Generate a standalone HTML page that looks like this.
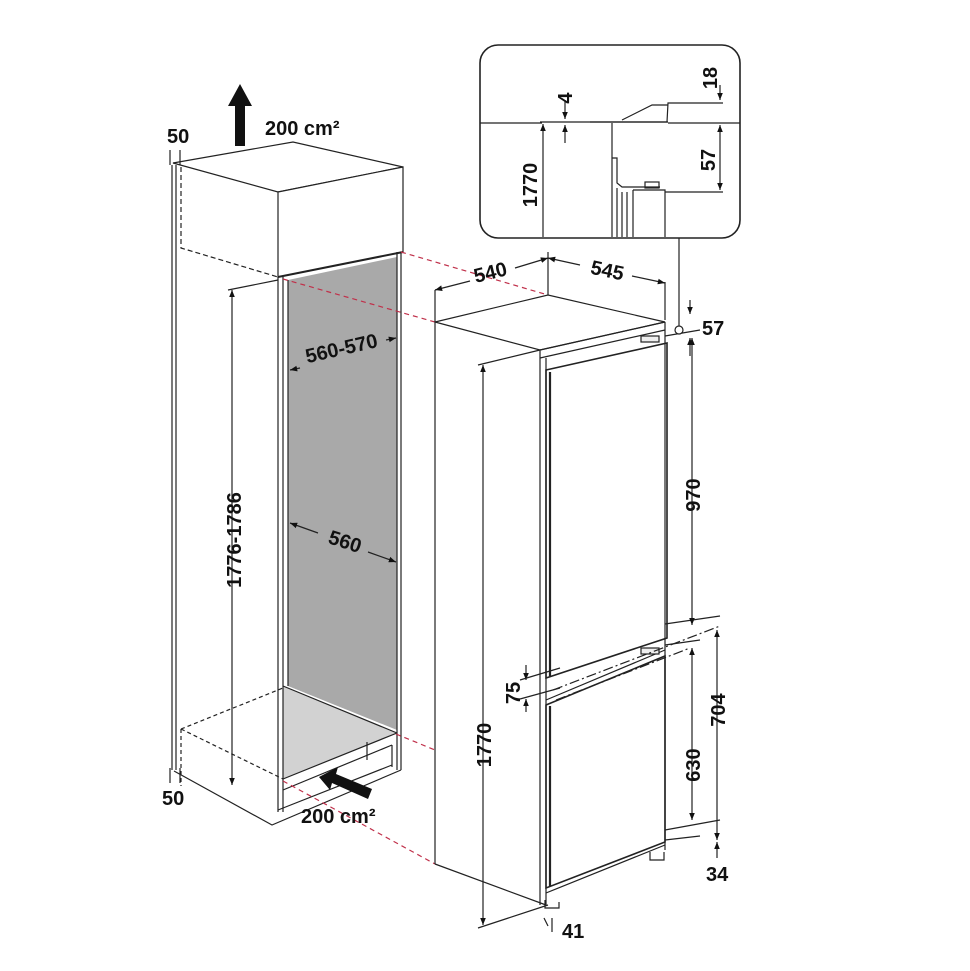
<!DOCTYPE html>
<html><head><meta charset="utf-8"><style>
html,body{margin:0;padding:0;background:#fff}
svg{display:block}
text{font-family:"Liberation Sans",sans-serif;font-weight:bold;font-size:20px;fill:#111}
</style></head><body>
<svg width="970" height="971" viewBox="0 0 970 971" xmlns="http://www.w3.org/2000/svg">
<defs>
<marker id="a" viewBox="0 0 10 10" refX="10" refY="5" markerWidth="6" markerHeight="6" orient="auto-start-reverse"><path d="M0,1 L10,5 L0,9z" fill="#111"/></marker>
</defs>
<g fill="none" stroke="#222" stroke-width="1.2">
<polygon points="288,280 397,257 397,730 288,686" fill="#a9a9a9" stroke="none"/>
<polygon points="283,686 396,733 283,779" fill="#d2d2d2" stroke="none"/>
<line x1="172" y1="165" x2="172" y2="770"/><line x1="176" y1="165" x2="176" y2="770"/>
<polygon points="173,163 293,142 403,167 278,192" fill="#fff"/>
<polygon points="278,192 403,167 403,252 278,277" fill="#fff"/>
<line x1="278" y1="277" x2="403" y2="252" stroke-width="2"/>
<path d="M181,167 V248 L278,277" stroke-dasharray="5,3"/>
<line x1="278" y1="277" x2="278" y2="812"/><line x1="283" y1="277" x2="283" y2="812"/>
<line x1="288" y1="280" x2="288" y2="686"/>
<line x1="397" y1="252" x2="397" y2="770"/><line x1="401" y1="252" x2="401" y2="770"/>
<line x1="283" y1="686" x2="397" y2="733"/>
<line x1="283" y1="779" x2="397" y2="733"/>
<line x1="283" y1="790" x2="392" y2="745"/>
<path d="M181,729 L283,688 M181,729 L283,779 M181,729 V786" stroke-dasharray="4,3"/>
<path d="M174,771 L272,825 L401,770"/>
<path d="M278,810 L392,765 M392,745 V767 M367,742 V760"/>
<path d="M170,150 V165 M180,150 V165"/>
<path d="M170,768 V783 M180,768 V783"/>
<line x1="232" y1="290" x2="232" y2="785" marker-start="url(#a)" marker-end="url(#a)"/>
<line x1="228" y1="290" x2="278" y2="280"/>
<line x1="290" y1="370" x2="300" y2="368" marker-start="url(#a)"/>
<line x1="386" y1="340" x2="396" y2="338" marker-end="url(#a)"/>
<line x1="290" y1="523" x2="318" y2="533" marker-start="url(#a)"/>
<line x1="368" y1="552" x2="396" y2="562" marker-end="url(#a)"/>
<g stroke="#c0304a" stroke-dasharray="5,4">
<line x1="401" y1="252" x2="548" y2="295"/>
<line x1="283" y1="279" x2="435" y2="322"/>
<line x1="396" y1="734" x2="435" y2="750"/>
<line x1="283" y1="781" x2="435" y2="864"/>
</g>
<polygon points="435,322 548,295 665,322 540,350" fill="#fff"/>
<line x1="435" y1="322" x2="435" y2="864"/>
<line x1="435" y1="864" x2="546" y2="905"/>
<line x1="540" y1="350" x2="540" y2="905"/><line x1="546" y1="358" x2="546" y2="905"/>
<path d="M540,350 L665,322 M540,358 L665,330 M665,322 V850"/>
<path d="M546,370 L667,343 V638 L546,678 Z" stroke-width="1.6"/>
<line x1="550" y1="372" x2="550" y2="676" stroke-width="2.2"/>
<path d="M546,705 L665,656 V842 L546,888 Z" stroke-width="1.6"/>
<line x1="550" y1="706" x2="550" y2="886" stroke-width="2.2"/>
<path d="M546,893 L665,845 M546,700 L665,650"/>
<rect x="641" y="336" width="18" height="6" fill="#eee"/>
<rect x="641" y="648" width="18" height="6" fill="#eee"/>
<path d="M650,852 v8 h14 v-8 M545,900 v8 h14 v-6"/>
<path d="M553,690 L720,626 M556,700 L690,648" stroke-dasharray="10,3,2,3"/>
<path d="M435,290 V322 M548,252 V295 M665,282 V320"/>
<line x1="435" y1="290" x2="470" y2="281" marker-start="url(#a)"/>
<line x1="515" y1="268" x2="548" y2="258" marker-end="url(#a)"/>
<line x1="548" y1="258" x2="580" y2="265" marker-start="url(#a)"/>
<line x1="632" y1="276" x2="665" y2="283" marker-end="url(#a)"/>
<line x1="483" y1="365" x2="483" y2="925" marker-start="url(#a)" marker-end="url(#a)"/>
<path d="M478,365 L540,350 M478,928 L548,905"/>
<path d="M544,918 l4,8 M552,918 l0,14"/>
<path d="M665,336 L700,330 M665,624 L720,616 M665,645 L700,640 M665,830 L720,820 M665,840 L700,836"/>
<line x1="690" y1="300" x2="690" y2="314" marker-end="url(#a)"/>
<line x1="690" y1="356" x2="690" y2="338" marker-end="url(#a)"/>
<line x1="692" y1="338" x2="692" y2="625" marker-start="url(#a)" marker-end="url(#a)"/>
<line x1="717" y1="630" x2="717" y2="840" marker-start="url(#a)" marker-end="url(#a)"/>
<line x1="692" y1="648" x2="692" y2="820" marker-start="url(#a)" marker-end="url(#a)"/>
<line x1="717" y1="858" x2="717" y2="842" marker-end="url(#a)"/>
<line x1="526" y1="665" x2="526" y2="680" marker-end="url(#a)"/>
<line x1="526" y1="712" x2="526" y2="699" marker-end="url(#a)"/>
<path d="M520,680 L560,668 M520,699 L560,688"/>
<circle cx="679" cy="330" r="4" fill="#fff"/>
<line x1="679" y1="237" x2="679" y2="326"/>
<rect x="480" y="45" width="260" height="193" rx="18" fill="#fff" stroke-width="1.6"/>
<path d="M480,123 H542 M540,122 H668 M668,123 H740"/>
<path d="M590,122 H667 L668,103 H723 M622,120 L652,105 H668"/>
<line x1="543" y1="237" x2="543" y2="124" marker-end="url(#a)"/>
<line x1="565" y1="100" x2="565" y2="119" marker-end="url(#a)"/>
<line x1="565" y1="143" x2="565" y2="125" marker-end="url(#a)"/>
<line x1="720" y1="85" x2="720" y2="100" marker-end="url(#a)"/>
<line x1="720" y1="125" x2="720" y2="190" marker-start="url(#a)" marker-end="url(#a)"/>
<path d="M612,123 V237 M612,158 h5 V183 l5,4 H660 M617,188 V237 M622,192 V237 M627,192 V237 M633,190 H665 V237 M633,190 V237 M665,192 H723"/>
<rect x="645" y="182" width="14" height="6"/>
</g>
<polygon points="240,84 228,106 235,106 235,146 245,146 245,106 252,106" fill="#111"/>
<polygon points="319,777 338,767 336,774 372,789 368,799 332,783 330,790" fill="#111"/>
<text x="265" y="135">200 cm²</text>
<text x="167" y="143">50</text>
<text x="162" y="805">50</text>
<text x="301" y="823">200 cm²</text>
<text transform="translate(241,540) rotate(-90)" text-anchor="middle">1776-1786</text>
<text transform="translate(343,355) rotate(-13)" text-anchor="middle">560-570</text>
<text transform="translate(343,548) rotate(18)" text-anchor="middle">560</text>
<text transform="translate(492,279) rotate(-14)" text-anchor="middle">540</text>
<text transform="translate(606,277) rotate(12)" text-anchor="middle">545</text>
<text x="702" y="335">57</text>
<text transform="translate(700,495) rotate(-90)" text-anchor="middle">970</text>
<text transform="translate(725,710) rotate(-90)" text-anchor="middle">704</text>
<text transform="translate(700,765) rotate(-90)" text-anchor="middle">630</text>
<text x="706" y="881">34</text>
<text transform="translate(520,693) rotate(-90)" text-anchor="middle">75</text>
<text transform="translate(491,745) rotate(-90)" text-anchor="middle">1770</text>
<text x="562" y="938">41</text>
<text transform="translate(572,98) rotate(-90)" text-anchor="middle">4</text>
<text transform="translate(717,78) rotate(-90)" text-anchor="middle">18</text>
<text transform="translate(715,160) rotate(-90)" text-anchor="middle">57</text>
<text transform="translate(537,185) rotate(-90)" text-anchor="middle">1770</text>
</svg>
</body></html>
